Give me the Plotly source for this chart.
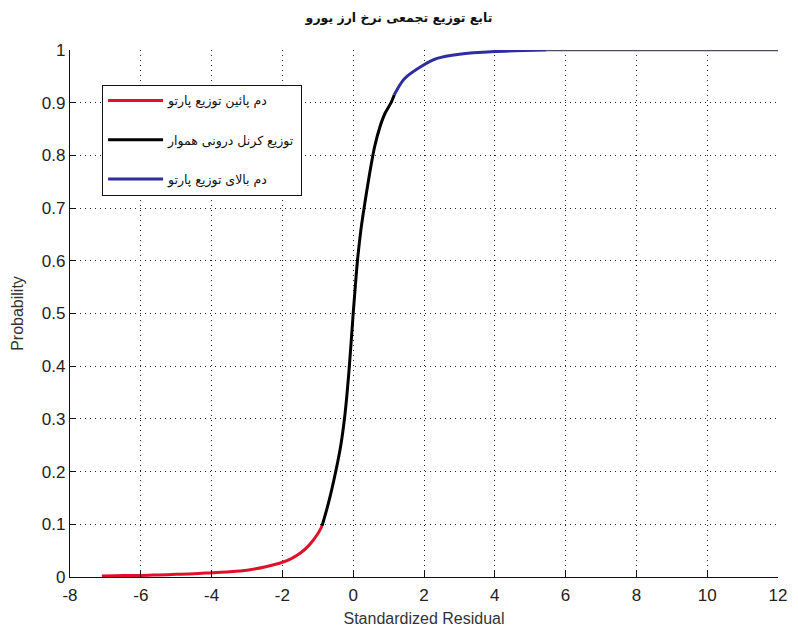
import plotly.graph_objects as go

# Lower Pareto tail
lower_x = [-7.1, -6.5, -6.0, -5.5, -5.0, -4.5, -4.0, -3.5, -3.0, -2.5, -2.0, -1.75, -1.5, -1.25, -1.0, -0.88]
lower_y = [0.002, 0.003, 0.003, 0.004, 0.005, 0.006, 0.008, 0.010, 0.013, 0.019, 0.028, 0.035, 0.045, 0.060, 0.082, 0.097]

# Smoothed interior kernel
kernel_x = [-0.88, -0.7, -0.51, -0.35, -0.23, -0.12, 0.0, 0.12, 0.22, 0.33, 0.45, 0.60, 0.75, 0.90, 1.07, 1.16]
kernel_y = [0.097, 0.14, 0.195, 0.25, 0.31, 0.39, 0.50, 0.60, 0.66, 0.71, 0.76, 0.815, 0.853, 0.88, 0.90, 0.915]

# Upper Pareto tail
upper_x = [1.16, 1.44, 2.0, 2.37, 3.0, 4.0, 5.45]
upper_y = [0.915, 0.945, 0.972, 0.984, 0.992, 0.997, 1.0]

# Flat continuation
flat_x = [5.45, 12.0]
flat_y = [1.0, 1.0]

names = ["دم پائین توزیع پارتو", "توزیع کرنل درونی هموار", "دم بالای توزیع پارتو"]
title_text = "تابع توزیع تجمعی نرخ ارز یورو"

x_ticks = [-8, -6, -4, -2, 0, 2, 4, 6, 8, 10, 12]
x_tick_text = ["-8", "-6", "-4", "-2", "0", "2", "4", "6", "8", "10", "12"]
y_ticks = [0, 0.1, 0.2, 0.3, 0.4, 0.5, 0.6, 0.7, 0.8, 0.9, 1]
y_tick_text = ["0", "0.1", "0.2", "0.3", "0.4", "0.5", "0.6", "0.7", "0.8", "0.9", "1"]

fig = go.Figure()
fig.add_trace(go.Scatter(x=flat_x, y=flat_y, mode="lines", showlegend=False,
                         line=dict(color="#4a4a68", width=2.5)))
fig.add_trace(go.Scatter(x=lower_x, y=lower_y, mode="lines", name=names[0], legendgroup="a",
                         line=dict(color="#e0102a", width=3, shape="spline", smoothing=0.8)))
fig.add_trace(go.Scatter(x=kernel_x, y=kernel_y, mode="lines", name=names[1], legendgroup="b",
                         line=dict(color="#000000", width=3, shape="spline", smoothing=0.8)))
fig.add_trace(go.Scatter(x=upper_x, y=upper_y, mode="lines", name=names[2], legendgroup="c",
                         line=dict(color="#2e2ea0", width=3, shape="spline", smoothing=0.8)))

axis_family = "Liberation Sans Narrow, Arial Narrow, Liberation Sans, sans-serif"
axis_font = dict(family=axis_family, size=17, color="#222222")

fig.update_layout(
    width=798, height=636,
    margin=dict(l=70, r=11, t=50, b=58),
    paper_bgcolor="white", plot_bgcolor="white",
    title=dict(text="<b>" + title_text + "</b>", x=0.5, xanchor="center", y=0.973, yanchor="middle",
               font=dict(family="DejaVu Sans, Noto Sans", size=12.5, color="#111111")),
    xaxis=dict(range=[-8, 12], tickmode="array", tickvals=x_ticks, ticktext=x_tick_text,
               ticks="inside", ticklen=6, ticklabelstandoff=2,
               tickcolor="#111", showline=True, linecolor="#111", linewidth=1.2, mirror=False,
               showgrid=True, gridcolor="#222", griddash="1px,4px", gridwidth=1, zeroline=False,
               tickfont=axis_font,
               title=dict(text="Standardized Residual", font=dict(family=axis_family, size=16, color="#333"),
                          standoff=9)),
    yaxis=dict(range=[0, 1], tickmode="array", tickvals=y_ticks, ticktext=y_tick_text, ticks="inside",
               ticklen=6, tickcolor="#111", showline=True, linecolor="#111", linewidth=1.2, mirror=False,
               showgrid=True, gridcolor="#222", griddash="1px,4px", gridwidth=1, zeroline=False,
               tickfont=axis_font,
               title=dict(text="Probability", font=dict(family=axis_family, size=16, color="#333"),
                          standoff=14)),
    legend=dict(x=0.045, y=0.934, xanchor="left", yanchor="top", bgcolor="white",
                bordercolor="#111", borderwidth=1.2, tracegroupgap=20, traceorder="grouped",
                itemwidth=55,
                font=dict(family="DejaVu Sans, Noto Sans", size=12.5, color="#111")),
)

fig.write_html("out.html")
